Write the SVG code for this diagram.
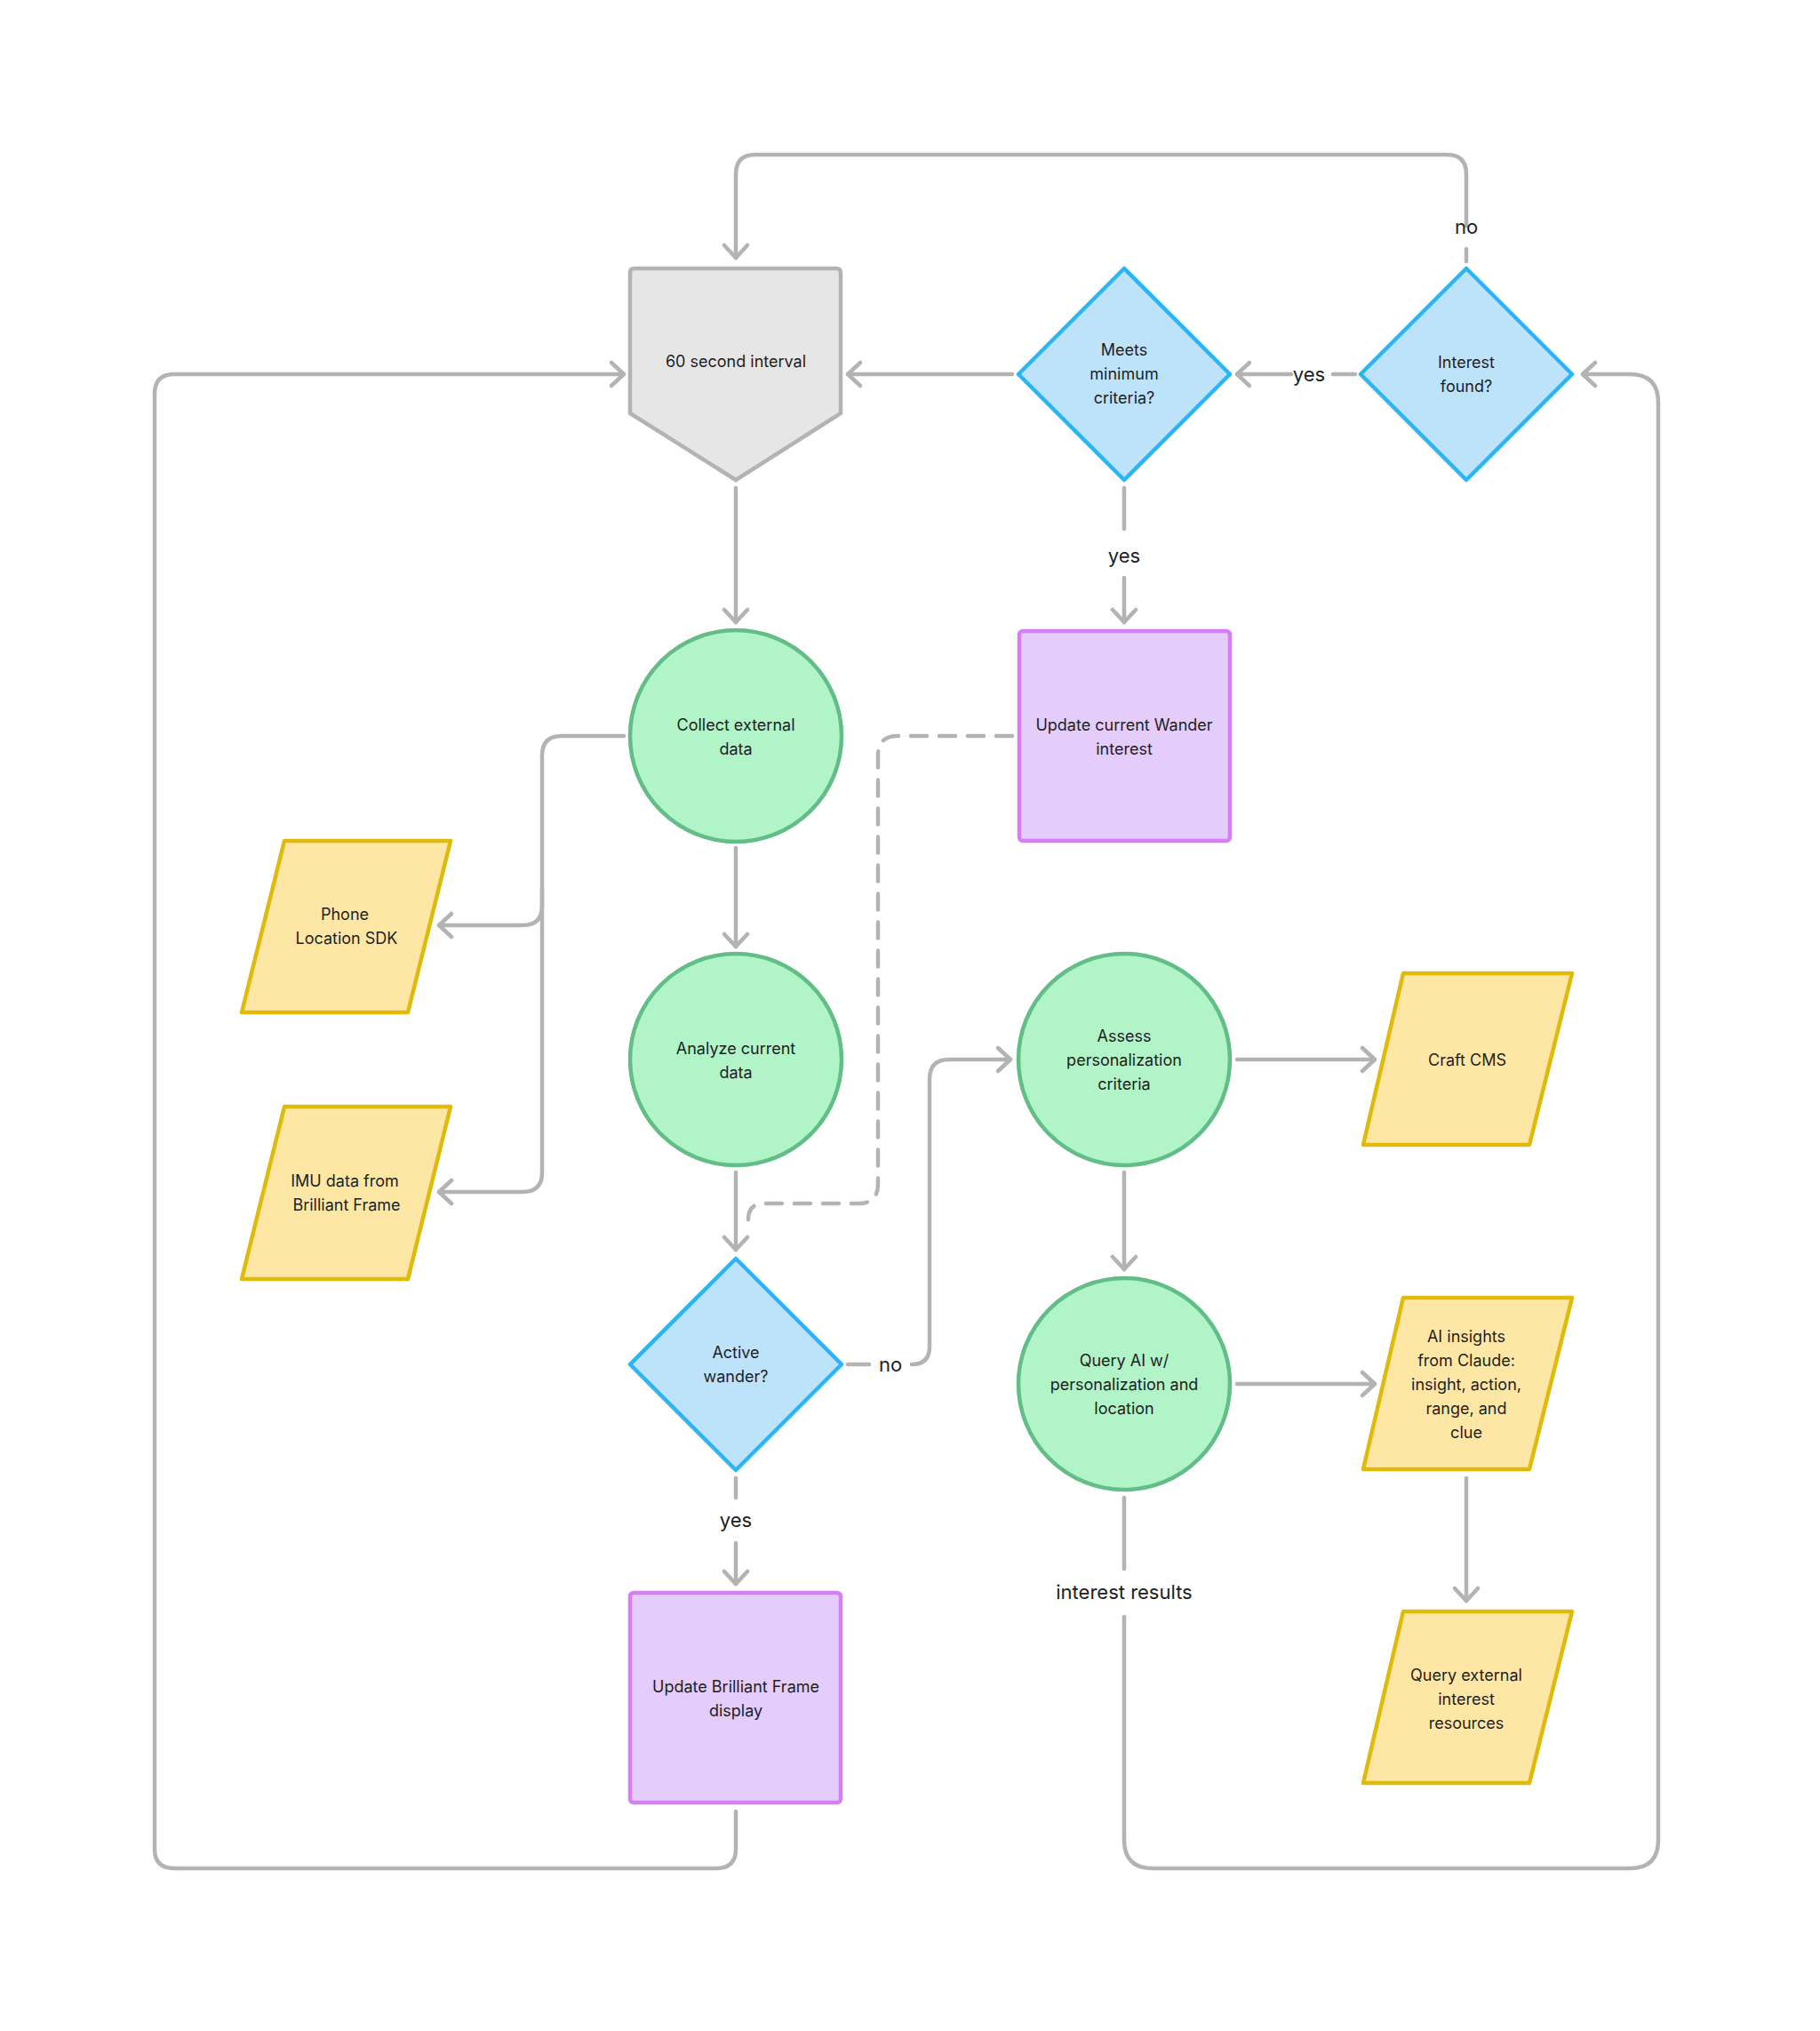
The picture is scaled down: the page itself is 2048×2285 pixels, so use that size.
<svg xmlns="http://www.w3.org/2000/svg" width="2048" height="2285" viewBox="0 0 2048 2285">
<defs>
<marker id="ah" markerUnits="userSpaceOnUse" markerWidth="40" markerHeight="40" refX="20" refY="20" orient="auto">
<path d="M6,7 L20,20 L6,33" fill="none" stroke="#b3b3b3" stroke-width="4.5" stroke-linecap="round" stroke-linejoin="round"/>
</marker>
</defs>
<style>
text{font-family:Inter,"Noto Sans",sans-serif;fill:#1e1e1e;text-anchor:middle}
.t{font-size:18px}
.l{font-size:22px}
.c{fill:none;stroke:#b3b3b3;stroke-width:4.5;stroke-linecap:round;stroke-linejoin:round}
.d{stroke-dasharray:18 14}
.g{fill:#e6e6e6;stroke:#b3b3b3;stroke-width:4.5}
.b{fill:#bde3fb;stroke:#2bb5f2;stroke-width:4.5;stroke-linejoin:round}
.gr{fill:#b0f4c8;stroke:#62bd87;stroke-width:4.5}
.p{fill:#e4ccfb;stroke:#d57ef5;stroke-width:4.5}
.y{fill:#fee7a5;stroke:#dfba0a;stroke-width:4.5;stroke-linejoin:round}
</style>
<rect width="2048" height="2285" fill="#fff"/>
<g id="connectors">
<path class="c" d="M1650,254 V196 Q1650,174 1628,174 H850 Q828,174 828,196 V290" marker-end="url(#ah)"/>
<path class="c" d="M1650,280 V294"/>
<text class="l" x="1650" y="263">no</text>
<path class="c" d="M828,2038 V2080 Q828,2102 806,2102 H196 Q174,2102 174,2080 V443 Q174,421 196,421 H702" marker-end="url(#ah)"/>
<path class="c" d="M1139,421 H954" marker-end="url(#ah)"/>
<path class="c" d="M1500,421 H1525"/>
<text class="l" x="1473" y="429">yes</text>
<path class="c" d="M1453,421 H1392" marker-end="url(#ah)"/>
<path class="c" d="M1265,549 V595"/>
<text class="l" x="1265" y="633">yes</text>
<path class="c" d="M1265,650 V700" marker-end="url(#ah)"/>
<path class="c" d="M828,549 V700" marker-end="url(#ah)"/>
<path class="c" d="M702,828 H632 Q610,828 610,850 V1019 Q610,1041 588,1041 H494" marker-end="url(#ah)"/>
<path class="c" d="M610,1000 V1319 Q610,1341 588,1341 H494" marker-end="url(#ah)"/>
<path class="c" d="M828,954 V1065" marker-end="url(#ah)"/>
<path class="c" d="M828,1319 V1406" marker-end="url(#ah)"/>
<path class="c d" d="M1139,828 H1010 Q988,828 988,850 V1332 Q988,1354 966,1354 H860 Q842,1354 842,1372"/>
<path class="c" d="M954,1535 H978"/>
<text class="l" x="1002" y="1543">no</text>
<path class="c" d="M1026,1535 Q1046,1535 1046,1515 V1214 Q1046,1192 1068,1192 H1137" marker-end="url(#ah)"/>
<path class="c" d="M828,1663 V1685"/>
<text class="l" x="828" y="1718">yes</text>
<path class="c" d="M828,1736 V1782" marker-end="url(#ah)"/>
<path class="c" d="M1392,1192 H1547" marker-end="url(#ah)"/>
<path class="c" d="M1265,1319 V1428" marker-end="url(#ah)"/>
<path class="c" d="M1392,1557 H1547" marker-end="url(#ah)"/>
<path class="c" d="M1650,1663 V1801" marker-end="url(#ah)"/>
<path class="c" d="M1265,1685 V1765"/>
<text class="l" x="1265" y="1799">interest results</text>
<path class="c" d="M1265,1819 V2070 Q1265,2102 1297,2102 H1834 Q1866,2102 1866,2070 V453 Q1866,421 1834,421 H1781" marker-end="url(#ah)"/>
</g>
<g id="interval"><path class="g" d="M709,307 Q709,302 714,302 H941 Q946,302 946,307 V465 L828,540 L709,465 Z"/><text class="t" x="828" y="413">60 second interval</text></g>
<g id="meets"><path class="b" d="M1265,302 L1384,421 L1265,540 L1146,421 Z"/><text class="t" x="1265" y="400">Meets</text><text class="t" x="1265" y="427">minimum</text><text class="t" x="1265" y="454">criteria?</text></g>
<g id="found"><path class="b" d="M1650,302 L1769,421 L1650,540 L1531,421 Z"/><text class="t" x="1650" y="414">Interest</text><text class="t" x="1650" y="441">found?</text></g>
<g id="collect"><circle class="gr" cx="828" cy="828" r="119"/><text class="t" x="828" y="822">Collect external</text><text class="t" x="828" y="849">data</text></g>
<g id="wander"><rect class="p" x="1147" y="710" width="237" height="236" rx="4"/><text class="t" x="1265" y="822">Update current Wander</text><text class="t" x="1265" y="849">interest</text></g>
<g id="phone"><path class="y" d="M320,946 H507 L459,1139 H272 Z"/><text class="t" x="388" y="1035">Phone</text><text class="t" x="390" y="1062">Location SDK</text></g>
<g id="imu"><path class="y" d="M320,1245 H507 L459,1439 H272 Z"/><text class="t" x="388" y="1335">IMU data from</text><text class="t" x="390" y="1362">Brilliant Frame</text></g>
<g id="analyze"><circle class="gr" cx="828" cy="1192" r="119"/><text class="t" x="828" y="1186">Analyze current</text><text class="t" x="828" y="1213">data</text></g>
<g id="assess"><circle class="gr" cx="1265" cy="1192" r="119"/><text class="t" x="1265" y="1172">Assess</text><text class="t" x="1265" y="1199">personalization</text><text class="t" x="1265" y="1226">criteria</text></g>
<g id="craft"><path class="y" d="M1579,1095 H1769 L1721,1288 H1534 Z"/><text class="t" x="1651" y="1199">Craft CMS</text></g>
<g id="active"><path class="b" d="M828,1416 L947,1535 L828,1654 L709,1535 Z"/><text class="t" x="828" y="1528">Active</text><text class="t" x="828" y="1555">wander?</text></g>
<g id="queryai"><circle class="gr" cx="1265" cy="1557" r="119"/><text class="t" x="1265" y="1537">Query AI w/</text><text class="t" x="1265" y="1564">personalization and</text><text class="t" x="1265" y="1591">location</text></g>
<g id="insights"><path class="y" d="M1579,1460 H1769 L1721,1653 H1534 Z"/><text class="t" x="1650" y="1510">AI insights</text><text class="t" x="1650" y="1537">from Claude:</text><text class="t" x="1650" y="1564">insight, action,</text><text class="t" x="1650" y="1591">range, and</text><text class="t" x="1650" y="1618">clue</text></g>
<g id="external"><path class="y" d="M1579,1813 H1769 L1721,2006 H1534 Z"/><text class="t" x="1650" y="1891">Query external</text><text class="t" x="1650" y="1918">interest</text><text class="t" x="1650" y="1945">resources</text></g>
<g id="display"><rect class="p" x="709" y="1792" width="237" height="236" rx="4"/><text class="t" x="828" y="1904">Update Brilliant Frame</text><text class="t" x="828" y="1931">display</text></g>
</svg>
